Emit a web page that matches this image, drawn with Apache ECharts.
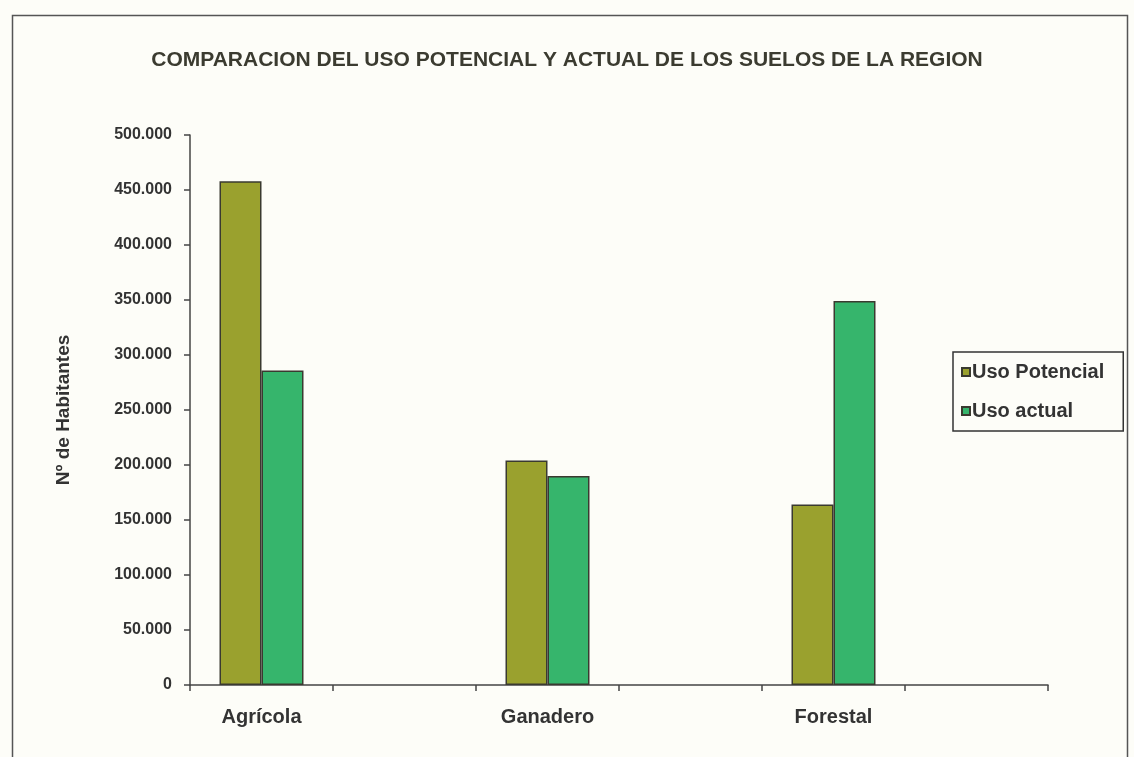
<!DOCTYPE html>
<html>
<head>
<meta charset="utf-8">
<script src="https://cdn.jsdelivr.net/npm/echarts@6/dist/echarts.min.js"></script>
<style>
  html, body { margin: 0; padding: 0; background: #fdfdf8; }
  #chart { width: 1134px; height: 757px; }
</style>
</head>
<body>
<div id="chart"></div>
<script>
// categorias (las vacias dejan el hueco entre grupos, como en el original)
var categorias = ['Agrícola', '', 'Ganadero', '', 'Forestal', ''];
var usoPotencial = [458000, null, 204000, null, 164000, null];
var usoActual = [286000, null, 190000, null, 349000, null];
var ticksY = [0, 50000, 100000, 150000, 200000, 250000, 300000, 350000, 400000, 450000, 500000];

function miles(v) {
    return String(v).replace(/\B(?=(\d{3})+(?!\d))/g, '.');
}

var myChart = echarts.init(document.getElementById('chart'));

myChart.setOption({
    backgroundColor: '#fdfdf8',
    animation: false,
    textStyle: { fontFamily: 'Liberation Sans, Arial, sans-serif' },
    title: {
        text: 'COMPARACION DEL USO POTENCIAL Y ACTUAL DE LOS SUELOS DE LA REGION',
        left: 'center',
        top: 45,
        textStyle: { fontSize: 21, fontWeight: 'bold', color: '#3b3b30' }
    },
    graphic: [{
        type: 'rect',
        shape: { x: 12.5, y: 15.5, width: 1115, height: 760 },
        style: { fill: 'none', stroke: '#555', lineWidth: 1.5 },
        silent: true
    }],
    legend: {
        orient: 'vertical',
        left: 953,
        top: 352,
        padding: [10, 19, 10, 8],
        itemGap: 19,
        itemWidth: 8,
        itemHeight: 8,
        borderColor: '#333',
        borderWidth: 1.5,
        textStyle: { fontSize: 20, fontWeight: 'bold', color: '#333', padding: [0, 0, 0, -3] },
        data: [
            { name: 'Uso Potencial', icon: 'rect' },
            { name: 'Uso actual', icon: 'rect' }
        ]
    },
    grid: { left: 190, right: 86, top: 135, bottom: 72 },
    xAxis: {
        type: 'category',
        data: categorias,
        axisLine: { lineStyle: { color: '#444', width: 1.5 } },
        axisTick: { show: true, length: 6, lineStyle: { color: '#444', width: 1.5 } },
        axisLabel: { fontSize: 20, fontWeight: 'bold', color: '#333', margin: 22, interval: 0 }
    },
    yAxis: {
        type: 'value',
        min: ticksY[0],
        max: ticksY[ticksY.length - 1],
        interval: ticksY[1] - ticksY[0],
        name: 'Nº de Habitantes',
        nameLocation: 'middle',
        nameGap: 117,
        nameRotate: 90,
        nameTextStyle: { fontSize: 19, fontWeight: 'bold', color: '#333' },
        axisLine: { show: true, lineStyle: { color: '#444', width: 1.5 } },
        axisTick: { show: true, length: 6, lineStyle: { color: '#444', width: 1.5 } },
        axisLabel: { fontSize: 16, fontWeight: 'bold', color: '#333', margin: 18, formatter: miles },
        splitLine: { show: false }
    },
    series: [
        {
            name: 'Uso Potencial',
            type: 'bar',
            data: usoPotencial,
            barWidth: 42,
            barGap: '0%',
            itemStyle: { color: '#9aa12e', borderColor: '#3a3a30', borderWidth: 1.5 }
        },
        {
            name: 'Uso actual',
            type: 'bar',
            data: usoActual,
            barWidth: 42,
            barGap: '0%',
            itemStyle: { color: '#36b56c', borderColor: '#3a3a30', borderWidth: 1.5 }
        }
    ]
});
</script>
</body>
</html>
